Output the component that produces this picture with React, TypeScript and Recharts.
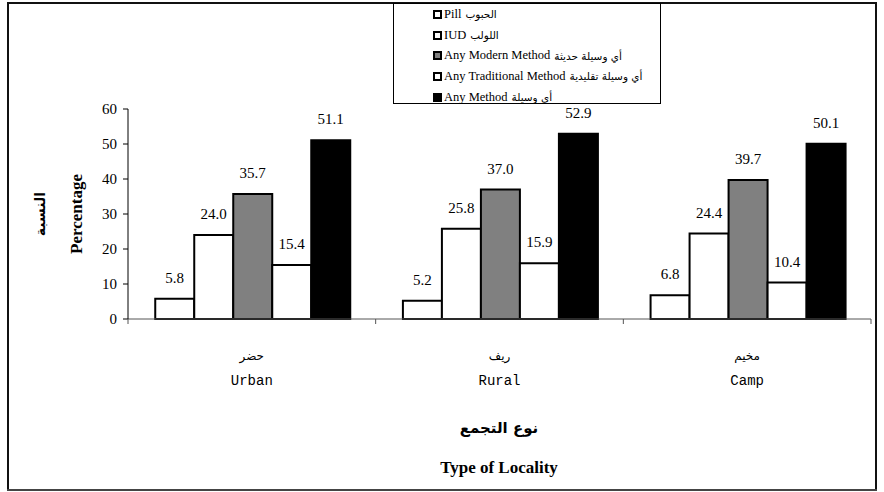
// Contraceptive use by type of locality, grouped bar chart (Recharts)
import * as React from 'react';
import { BarChart, Bar, XAxis, YAxis, LabelList, Label } from 'recharts';

const LOCALITIES = ['Urban', 'Rural', 'Camp'];
const LOCALITIES_AR = ['حضر', 'ريف', 'مخيم'];

const PILL = [5.8, 5.2, 6.8];
const IUD = [24.0, 25.8, 24.4];
const MODERN = [35.7, 37.0, 39.7];
const TRADITIONAL = [15.4, 15.9, 10.4];
const ANY = [51.1, 52.9, 50.1];

const Y_TICKS = [0, 10, 20, 30, 40, 50, 60];

const SERIES = [
  { key: 'pill', en: 'Pill', ar: 'الحبوب', fill: '#ffffff', values: PILL },
  { key: 'iud', en: 'IUD', ar: 'اللولب', fill: '#ffffff', values: IUD },
  { key: 'modern', en: 'Any Modern Method', ar: 'أي وسيلة حديثة', fill: '#808080', values: MODERN },
  { key: 'traditional', en: 'Any Traditional Method', ar: 'أي وسيلة تقليدية', fill: '#ffffff', values: TRADITIONAL },
  { key: 'any', en: 'Any Method', ar: 'أي وسيلة', fill: '#000000', values: ANY },
];

const data = LOCALITIES.map((name, i) => {
  const row: any = { name, ar: LOCALITIES_AR[i] };
  SERIES.forEach((s) => {
    row[s.key] = s.values[i];
  });
  return row;
});

const SERIF = '"Liberation Serif", "Times New Roman", serif';
const MONO = '"Liberation Mono", "Courier New", monospace';
const ARABIC = '"DejaVu Sans", "Noto Sans", sans-serif';

const W = 884;
const H = 492;
const PLOT_LEFT = 128;
const PLOT_RIGHT = 871;
const BAND = (PLOT_RIGHT - PLOT_LEFT) / LOCALITIES.length;

function LocalityTick(props: any) {
  const { x, y, payload, index } = props;
  const ar = LOCALITIES_AR[LOCALITIES.indexOf(payload.value)];
  return (
    <g>
      <line x1={x - BAND / 2} y1={y} x2={x - BAND / 2} y2={y + 5} stroke="#555" />
      {index === LOCALITIES.length - 1 && (
        <line x1={x + BAND / 2} y1={y} x2={x + BAND / 2} y2={y + 5} stroke="#555" />
      )}
      <text x={x} y={y + 41} textAnchor="middle" fontFamily={ARABIC} fontSize={12} fill="#000">
        {ar}
      </text>
      <text x={x} y={y + 66} textAnchor="middle" fontFamily={MONO} fontSize={14} fill="#000">
        {payload.value}
      </text>
    </g>
  );
}

function LegendBox() {
  return (
    <div
      style={{
        position: 'absolute',
        left: 393,
        top: 3,
        width: 268,
        height: 101,
        border: '1px solid #000',
        background: '#fff',
        boxSizing: 'border-box',
        paddingLeft: 39,
        paddingTop: 0,
      }}
    >
      {SERIES.map((s) => (
        <div
          key={s.key}
          style={{ display: 'flex', alignItems: 'center', height: 20.7, fontFamily: SERIF, fontSize: 12.5, color: '#000' }}
        >
          <span
            style={{
              display: 'inline-block',
              width: 9,
              height: 9,
              border: '2px solid #000',
              background: s.fill,
              boxSizing: 'border-box',
              marginRight: 2,
            }}
          />
          <span>{s.en}</span>
          <span style={{ fontFamily: ARABIC, fontSize: 10.5, marginLeft: 4 }}>{s.ar}</span>
        </div>
      ))}
    </div>
  );
}

export default function App() {
  return (
    <div style={{ position: 'fixed', left: 0, top: 0, width: W, height: H, background: '#fff', overflow: 'hidden' }}>
      <div style={{ position: 'absolute', left: 0, top: 0 }}>
        <BarChart
          width={W}
          height={H}
          data={data}
          margin={{ top: 109, right: W - PLOT_RIGHT, bottom: 113, left: 68 }}
          barCategoryGap="11%"
          barGap={0}
        >
          <XAxis
            dataKey="name"
            height={60}
            stroke="#555"
            tickLine={false}
            tickSize={0}
            tickMargin={0}
            interval={0}
            tick={<LocalityTick />}
          >
            <Label
              content={() => (
                <g>
                  <text x={499} y={433} textAnchor="middle" fontFamily={ARABIC} fontWeight="bold" fontSize={15} fill="#000">
                    نوع التجمع
                  </text>
                  <text x={499} y={473} textAnchor="middle" fontFamily={SERIF} fontWeight="bold" fontSize={17} fill="#000">
                    Type of Locality
                  </text>
                </g>
              )}
            />
          </XAxis>
          <YAxis
            width={60}
            domain={[0, 60]}
            ticks={Y_TICKS}
            interval={0}
            stroke="#000"
            tickSize={5}
            tickMargin={6}
            tick={{ fill: '#000', fontFamily: SERIF, fontSize: 15 }}
          >
            <Label
              content={() => (
                <g>
                  <text
                    x={82}
                    y={214}
                    transform="rotate(-90 82 214)"
                    textAnchor="middle"
                    fontFamily={SERIF}
                    fontWeight="bold"
                    fontSize={17}
                    fill="#000"
                  >
                    Percentage
                  </text>
                  <text
                    x={45}
                    y={214}
                    transform="rotate(-90 45 214)"
                    textAnchor="middle"
                    fontFamily={ARABIC}
                    fontWeight="bold"
                    fontSize={14}
                    fill="#000"
                  >
                    النسبة
                  </text>
                </g>
              )}
            />
          </YAxis>
          {SERIES.map((s) => (
            <Bar
              key={s.key}
              dataKey={s.key}
              fill={s.fill}
              stroke="#000"
              strokeWidth={2}
              isAnimationActive={false}
            >
              <LabelList
                dataKey={s.key}
                position="top"
                offset={16}
                formatter={(v: any) => Number(v).toFixed(1)}
                style={{ fontFamily: SERIF, fontSize: 15, fill: '#000' }}
              />
            </Bar>
          ))}
        </BarChart>
      </div>
      <svg
        width={W}
        height={H}
        style={{ position: 'absolute', left: 0, top: 0, pointerEvents: 'none' }}
      >
        <line x1={7} y1={3} x2={877} y2={3} stroke="#111" strokeWidth={2} />
        <line x1={8} y1={3} x2={8} y2={491} stroke="#111" strokeWidth={2} />
        <line x1={876} y1={3} x2={876} y2={491} stroke="#111" strokeWidth={2} />
        <line x1={7} y1={490} x2={877} y2={490} stroke="#444" strokeWidth={2} />
      </svg>
      <LegendBox />
    </div>
  );
}
